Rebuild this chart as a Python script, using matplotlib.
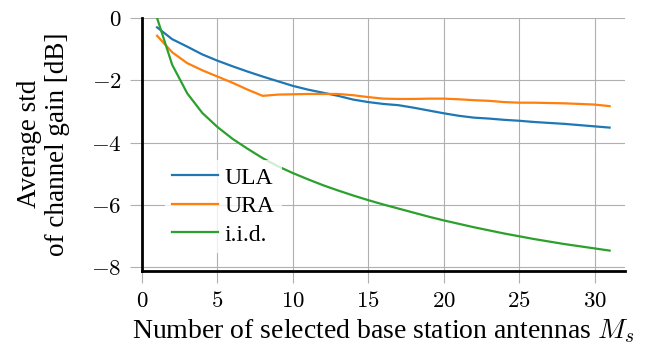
import matplotlib
matplotlib.use("Agg")
import matplotlib.pyplot as plt
from matplotlib.ticker import FuncFormatter
import numpy as np

plt.rcParams['font.family'] = ['Liberation Serif', 'DejaVu Serif']
plt.rcParams['mathtext.fontset'] = 'cm'
plt.rcParams['font.size'] = 17

# liczba wybranych anten
antennas = list(range(1, 32))

ula = [-0.30, -0.68, -0.92, -1.17, -1.37, -1.55, -1.72, -1.88, -2.03, -2.18,
       -2.30, -2.40, -2.50, -2.62, -2.70, -2.76, -2.80, -2.88, -2.97, -3.06,
       -3.14, -3.20, -3.23, -3.27, -3.30, -3.34, -3.37, -3.40, -3.44, -3.48,
       -3.52]
ura = [-0.57, -1.10, -1.45, -1.68, -1.88, -2.08, -2.30, -2.50, -2.46, -2.45,
       -2.44, -2.44, -2.44, -2.48, -2.54, -2.59, -2.60, -2.60, -2.59, -2.59,
       -2.61, -2.64, -2.66, -2.70, -2.72, -2.72, -2.73, -2.74, -2.76, -2.78,
       -2.83]
iid = [0.00, -1.50, -2.42, -3.05, -3.50, -3.88, -4.20, -4.50, -4.76, -4.98,
       -5.18, -5.37, -5.54, -5.70, -5.85, -5.99, -6.12, -6.25, -6.38, -6.50,
       -6.61, -6.72, -6.82, -6.92, -7.01, -7.10, -7.18, -7.26, -7.33, -7.40,
       -7.47]

labels = ["ULA", "URA", "i.i.d."]
xticks = [0, 5, 10, 15, 20, 25, 30]
yticks = [0, -2, -4, -6, -8]

fig = plt.figure(figsize=(6.46, 3.49), dpi=100)
ax = fig.add_axes([0.2198, 0.2249, 0.967 - 0.2198, 0.9484 - 0.2249])

ax.plot(antennas, ula, color="#1f77b4", lw=1.6, label=labels[0])
ax.plot(antennas, ura, color="#ff7f0e", lw=1.6, label=labels[1])
ax.plot(antennas, iid, color="#2ca02c", lw=1.6, label=labels[2])

ax.set_xlim(0, 32)
ax.set_ylim(-8.11, 0)
ax.set_xticks(xticks)
ax.set_yticks(yticks)
# etykiety osi w trybie matematycznym (jak w LaTeX)
ax.xaxis.set_major_formatter(FuncFormatter(lambda v, p: r"$%g$" % v))
ax.yaxis.set_major_formatter(FuncFormatter(lambda v, p: r"$%g$" % v))
ax.grid(True, color="#b0b0b0", lw=0.8)
ax.tick_params(direction="out", length=8.6, width=0.8, color="#b0b0b0",
               pad=6, labelsize=16.5)
for s in ["top", "right"]:
    ax.spines[s].set_visible(False)
for s in ["left", "bottom"]:
    ax.spines[s].set_linewidth(2)
    ax.spines[s].set_zorder(3)

ax.set_xlabel(r"Number of selected base station antennas $M_s$", fontsize=20, labelpad=4)
ax.set_ylabel("Average std\nof channel gain [dB]", fontsize=19.5, labelpad=15, linespacing=1.16)

leg = ax.legend(loc="upper left", bbox_to_anchor=(0.047, 0.438), borderaxespad=0,
                frameon=True, fancybox=False, handlelength=1.95, handletextpad=0.3,
                labelspacing=0.3, borderpad=0.3, fontsize=17)
leg.get_frame().set_edgecolor("none")
leg.get_frame().set_alpha(0.8)

plt.savefig("out.png", dpi=100)
